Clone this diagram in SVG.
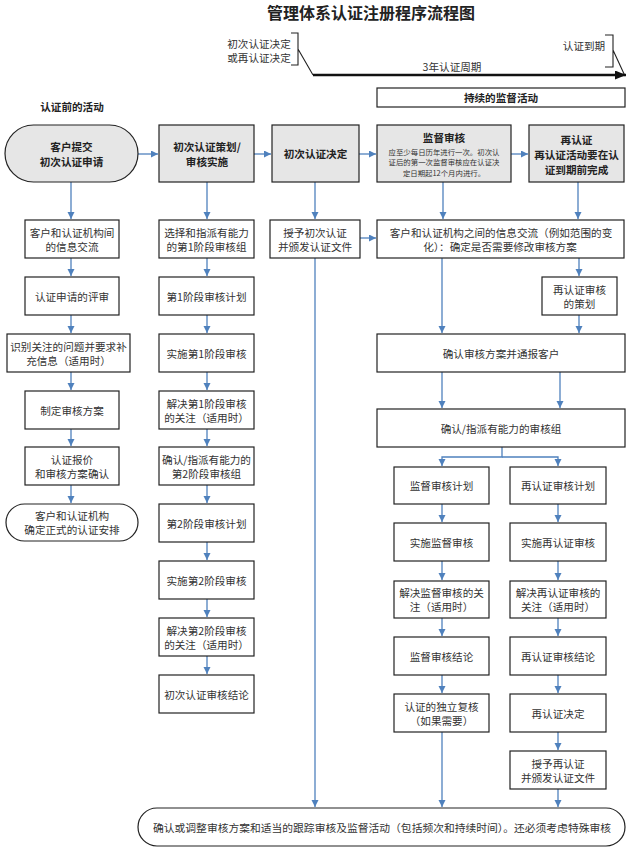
<svg xmlns="http://www.w3.org/2000/svg" width="636" height="851" viewBox="0 0 636 851">
<style>
.b{fill:#fff;stroke:#222;stroke-width:1.2}
.g{fill:#e6e6e6;stroke:#222;stroke-width:1.2}
text{font-family:"Noto Sans CJK SC","Noto Sans CJK JP",sans-serif;font-size:10.6px;fill:#333;text-anchor:middle;dominant-baseline:central}
.bd{font-weight:bold;fill:#222}
.sm{font-size:7.4px}
.c{stroke:#4f81bd;stroke-width:1.3;fill:none;marker-end:url(#a)}
.k{stroke:#222;stroke-width:1.1;fill:none}
</style>
<defs>
<marker id="a" markerUnits="userSpaceOnUse" markerWidth="8" markerHeight="8" refX="7" refY="3.5" orient="auto">
<path d="M0,0 L7,3.5 L0,7 z" fill="#4f81bd"/>
</marker>
<marker id="ak" markerUnits="userSpaceOnUse" markerWidth="12" markerHeight="10" refX="11" refY="4.5" orient="auto">
<path d="M0,0 L11,4.5 L0,9 z" fill="#111"/>
</marker>
</defs>
<rect width="636" height="851" fill="#fff"/>

<g id="header">
<text x="371" y="12" class="bd" style="font-size:16px">管理体系认证注册程序流程图</text>
<text x="259" y="43">初次认证决定</text>
<text x="259" y="57">或再认证决定</text>
<path class="k" d="M291,33 H298 V65 H291 M298,49 L313,75"/>
<text x="584" y="45">认证到期</text>
<path class="k" d="M605,35 H613 V67 H605 M613,50 L625,76"/>
<text x="452" y="66">3年认证周期</text>
<path d="M313,75 H626" stroke="#111" stroke-width="2.6" fill="none" marker-end="url(#ak)"/>
</g>
<g id="n_ongoing">
<rect class="b" x="377" y="88" width="248" height="19"/>
<text x="501" y="97.5" class="bd">持续的监督活动</text>
</g>
<text x="72" y="106" class="bd">认证前的活动</text>

<g id="connectors">
<path class="c" d="M138,154 H158"/>
<path class="c" d="M254,154 H271"/>
<path class="c" d="M359,154 H376"/>
<path class="c" d="M511,154 H528"/>
<path class="c" d="M71,182 V219"/>
<path class="c" d="M207,182 V219"/>
<path class="c" d="M315,182 V219"/>
<path class="c" d="M443,182 V219"/>
<path class="c" d="M578,182 V219"/>
<path class="c" d="M360,238 H376"/>
<path class="c" d="M71,258 V276"/>
<path class="c" d="M71,315 V333"/>
<path class="c" d="M71,372 V390"/>
<path class="c" d="M71,429 V446"/>
<path class="c" d="M71,485 V503"/>
<path class="c" d="M207,258 V276"/>
<path class="c" d="M207,315 V333"/>
<path class="c" d="M207,372 V390"/>
<path class="c" d="M207,429 V446"/>
<path class="c" d="M207,485 V503"/>
<path class="c" d="M207,542 V560"/>
<path class="c" d="M207,599 V617"/>
<path class="c" d="M207,656 V674"/>
<path class="c" d="M315,258 V807"/>
<path class="c" d="M579,258 V276"/>
<path class="c" d="M579,315 V333"/>
<path class="c" d="M442,258 V333"/>
<path class="c" d="M442,372 V408"/>
<path class="c" d="M560,372 V408"/>
<path class="c" d="M502,447 V457 H442 V466"/>
<path class="c" d="M502,457 H558 V466"/>
<path class="c" d="M442,504 V522"/>
<path class="c" d="M442,561 V580"/>
<path class="c" d="M442,618 V636"/>
<path class="c" d="M442,675 V693"/>
<path class="c" d="M442,732 V807"/>
<path class="c" d="M558,504 V522"/>
<path class="c" d="M558,561 V580"/>
<path class="c" d="M558,618 V636"/>
<path class="c" d="M558,675 V693"/>
<path class="c" d="M558,732 V750"/>
<path class="c" d="M558,789 V807"/>
</g>

<g id="n_apply">
<rect class="g" x="5" y="125" width="133" height="57" rx="28.5"/>
<text x="71.5" y="146" class="bd">客户提交</text>
<text x="71.5" y="161" class="bd">初次认证申请</text>
</g>
<g id="n_plan">
<rect class="g" x="159" y="125" width="95" height="57"/>
<text x="207" y="146" class="bd">初次认证策划/</text>
<text x="207" y="161" class="bd">审核实施</text>
</g>
<g id="n_decide">
<rect class="g" x="272" y="125" width="87" height="57"/>
<text x="315.5" y="153.5" class="bd">初次认证决定</text>
</g>
<g id="n_surv">
<rect class="g" x="377" y="125" width="134" height="57"/>
<text x="444" y="137.5" class="bd">监督审核</text>
<text x="444" y="151" class="sm">应至少每日历年进行一次。初次认</text>
<text x="444" y="161.5" class="sm">证后的第一次监督审核应在认证决</text>
<text x="444" y="172" class="sm">定日期起12个月内进行。</text>
</g>
<g id="n_recert">
<rect class="g" x="529" y="125" width="95" height="57"/>
<text x="576.5" y="139.5" class="bd">再认证</text>
<text x="576.5" y="154.5" class="bd">再认证活动要在认</text>
<text x="576.5" y="169.5" class="bd">证到期前完成</text>
</g>

<g id="n_info1">
<rect class="b" x="25" y="220" width="94" height="38"/>
<text x="72" y="232">客户和认证机构间</text>
<text x="72" y="246">的信息交流</text>
</g>
<g id="n_review">
<rect class="b" x="25" y="277" width="94" height="38"/>
<text x="72" y="296">认证申请的评审</text>
</g>
<g id="n_identify">
<rect class="b" x="7" y="334" width="123" height="38"/>
<text x="68.5" y="346">识别关注的问题并要求补</text>
<text x="68.5" y="360">充信息（适用时）</text>
</g>
<g id="n_program">
<rect class="b" x="25" y="391" width="94" height="38"/>
<text x="72" y="410">制定审核方案</text>
</g>
<g id="n_quote">
<rect class="b" x="25" y="447" width="94" height="38"/>
<text x="72" y="459">认证报价</text>
<text x="72" y="473">和审核方案确认</text>
</g>
<g id="n_arrange">
<rect class="b" x="6" y="504" width="132" height="37" rx="18.5"/>
<text x="72" y="515.5">客户和认证机构</text>
<text x="72" y="529.5">确定正式的认证安排</text>
</g>

<g id="n_team1">
<rect class="b" x="159" y="220" width="95" height="38"/>
<text x="206.5" y="232">选择和指派有能力</text>
<text x="206.5" y="246">的第1阶段审核组</text>
</g>
<g id="n_s1plan">
<rect class="b" x="159" y="277" width="95" height="38"/>
<text x="206.5" y="296">第1阶段审核计划</text>
</g>
<g id="n_s1do">
<rect class="b" x="159" y="334" width="95" height="38"/>
<text x="206.5" y="353">实施第1阶段审核</text>
</g>
<g id="n_s1res">
<rect class="b" x="159" y="391" width="95" height="38"/>
<text x="206.5" y="403">解决第1阶段审核</text>
<text x="206.5" y="417">的关注（适用时）</text>
</g>
<g id="n_team2">
<rect class="b" x="159" y="447" width="95" height="38"/>
<text x="206.5" y="459">确认/指派有能力的</text>
<text x="206.5" y="473">第2阶段审核组</text>
</g>
<g id="n_s2plan">
<rect class="b" x="159" y="504" width="95" height="38"/>
<text x="206.5" y="523">第2阶段审核计划</text>
</g>
<g id="n_s2do">
<rect class="b" x="159" y="561" width="95" height="38"/>
<text x="206.5" y="580">实施第2阶段审核</text>
</g>
<g id="n_s2res">
<rect class="b" x="159" y="618" width="95" height="38"/>
<text x="206.5" y="630">解决第2阶段审核</text>
<text x="206.5" y="644">的关注（适用时）</text>
</g>
<g id="n_s2concl">
<rect class="b" x="159" y="675" width="95" height="38"/>
<text x="206.5" y="694">初次认证审核结论</text>
</g>

<g id="n_grant1">
<rect class="b" x="270" y="220" width="90" height="38"/>
<text x="315" y="232">授予初次认证</text>
<text x="315" y="246">并颁发认证文件</text>
</g>
<g id="n_info2">
<rect class="b" x="377" y="220" width="247" height="38"/>
<text x="501" y="232">客户和认证机构之间的信息交流（例如范围的变</text>
<text x="500" y="246">化）：确定是否需要修改审核方案</text>
</g>
<g id="n_rcplan">
<rect class="b" x="542" y="277" width="75" height="38"/>
<text x="579.5" y="289">再认证审核</text>
<text x="579.5" y="303">的策划</text>
</g>
<g id="n_confirm">
<rect class="b" x="377" y="334" width="248" height="38"/>
<text x="501" y="353">确认审核方案并通报客户</text>
</g>
<g id="n_team3">
<rect class="b" x="377" y="409" width="248" height="38"/>
<text x="501" y="428">确认/指派有能力的审核组</text>
</g>

<g id="n_svplan">
<rect class="b" x="394" y="467" width="95" height="37"/>
<text x="441.5" y="485.5">监督审核计划</text>
</g>
<g id="n_svdo">
<rect class="b" x="394" y="523" width="95" height="38"/>
<text x="441.5" y="542">实施监督审核</text>
</g>
<g id="n_svres">
<rect class="b" x="394" y="581" width="95" height="37"/>
<text x="441.5" y="592.5">解决监督审核的关</text>
<text x="441.5" y="606.5">注（适用时）</text>
</g>
<g id="n_svconcl">
<rect class="b" x="394" y="637" width="95" height="38"/>
<text x="441.5" y="656">监督审核结论</text>
</g>
<g id="n_indep">
<rect class="b" x="394" y="694" width="95" height="38"/>
<text x="441.5" y="706">认证的独立复核</text>
<text x="441.5" y="720">（如果需要）</text>
</g>

<g id="n_rcaplan">
<rect class="b" x="510" y="467" width="96" height="37"/>
<text x="558" y="485.5">再认证审核计划</text>
</g>
<g id="n_rcdo">
<rect class="b" x="510" y="523" width="96" height="38"/>
<text x="558" y="542">实施再认证审核</text>
</g>
<g id="n_rcres">
<rect class="b" x="510" y="581" width="96" height="37"/>
<text x="558" y="592.5">解决再认证审核的</text>
<text x="558" y="606.5">关注（适用时）</text>
</g>
<g id="n_rcconcl">
<rect class="b" x="510" y="637" width="96" height="38"/>
<text x="558" y="656">再认证审核结论</text>
</g>
<g id="n_rcdecide">
<rect class="b" x="510" y="694" width="96" height="38"/>
<text x="558" y="713">再认证决定</text>
</g>
<g id="n_grant2">
<rect class="b" x="510" y="751" width="96" height="38"/>
<text x="558" y="763">授予再认证</text>
<text x="558" y="777">并颁发认证文件</text>
</g>

<g id="n_final">
<rect class="b" x="138" y="808" width="487" height="38" rx="19"/>
<text x="382" y="827" textLength="458" lengthAdjust="spacingAndGlyphs">确认或调整审核方案和适当的跟踪审核及监督活动（包括频次和持续时间）。还必须考虑特殊审核</text>
</g>
</svg>
